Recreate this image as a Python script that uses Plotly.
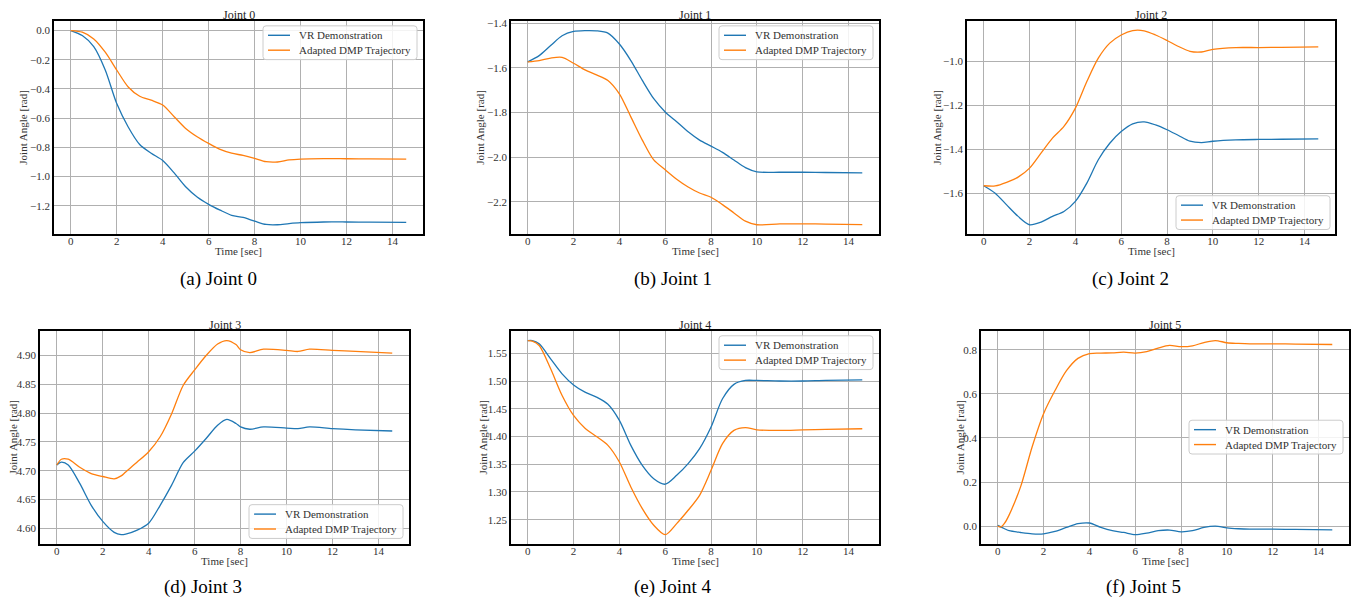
import plotly.graph_objects as go

W, H = 1352, 604

# ---------------- data ----------------
t0 = [0, 0.5, 1, 1.5, 2, 2.5, 3, 3.5, 4, 4.5, 5, 5.5, 6, 6.5, 7, 7.5, 8, 8.5, 9, 9.5, 10, 11, 12, 13, 14.6]
vr0 = [0, -0.034, -0.11, -0.27, -0.5, -0.66, -0.78, -0.84, -0.89, -0.975, -1.07, -1.14, -1.19, -1.23,
       -1.265, -1.28, -1.305, -1.328, -1.33, -1.322, -1.316, -1.311, -1.311, -1.312, -1.313]
dmp0 = [0, -0.011, -0.057, -0.148, -0.27, -0.386, -0.45, -0.477, -0.51, -0.59, -0.67, -0.727, -0.773,
        -0.814, -0.84, -0.855, -0.875, -0.898, -0.9, -0.886, -0.88, -0.877, -0.878, -0.879, -0.88]

t1 = [0, 0.5, 1, 1.5, 2, 2.5, 3, 3.5, 4, 4.5, 5, 5.5, 6, 6.5, 7, 7.5, 8, 8.5, 9, 9.5, 10, 11, 12, 13, 14.6]
vr1 = [-1.573, -1.545, -1.50, -1.456, -1.437, -1.433, -1.434, -1.444, -1.493, -1.567, -1.656, -1.738,
       -1.797, -1.841, -1.886, -1.923, -1.95, -1.978, -2.012, -2.046, -2.065, -2.067, -2.067, -2.068, -2.07]
dmp1 = [-1.573, -1.567, -1.556, -1.553, -1.579, -1.609, -1.631, -1.656, -1.716, -1.819, -1.923, -2.012,
        -2.056, -2.098, -2.133, -2.16, -2.179, -2.212, -2.249, -2.286, -2.302, -2.298, -2.298, -2.299, -2.301]

t2 = [0, 0.5, 1, 1.5, 2, 2.5, 3, 3.5, 4, 4.5, 5, 5.5, 6, 6.5, 7, 7.5, 8, 8.5, 9, 9.5, 10, 11, 12, 13, 14.6]
vr2 = [-1.565, -1.599, -1.652, -1.704, -1.742, -1.73, -1.704, -1.682, -1.636, -1.553, -1.447, -1.372,
       -1.319, -1.284, -1.275, -1.289, -1.311, -1.337, -1.363, -1.369, -1.363, -1.357, -1.355, -1.354, -1.352]
dmp2 = [-1.565, -1.566, -1.55, -1.526, -1.485, -1.417, -1.349, -1.296, -1.213, -1.092, -0.986, -0.918,
        -0.881, -0.861, -0.862, -0.881, -0.906, -0.933, -0.955, -0.958, -0.946, -0.938, -0.938, -0.937, -0.935]

t3 = [0, 0.2, 0.5, 1, 1.5, 2, 2.5, 2.8, 3, 3.5, 4, 4.5, 5, 5.5, 6, 6.5, 7, 7.4, 7.8, 8, 8.4, 9, 10,
      10.5, 11, 12, 13, 14.6]
vr3 = [4.710, 4.715, 4.710, 4.678, 4.640, 4.612, 4.593, 4.589, 4.590, 4.597, 4.609, 4.640, 4.675, 4.714,
       4.734, 4.756, 4.779, 4.789, 4.782, 4.776, 4.772, 4.776, 4.774, 4.773, 4.776, 4.773, 4.771, 4.769]
dmp3 = [4.710, 4.720, 4.720, 4.706, 4.695, 4.690, 4.686, 4.691, 4.698, 4.715, 4.733, 4.759, 4.799, 4.848,
        4.875, 4.900, 4.920, 4.926, 4.919, 4.910, 4.905, 4.911, 4.909, 4.907, 4.911, 4.909, 4.907, 4.904]

t4 = [0, 0.2, 0.5, 1, 1.5, 2, 2.5, 3, 3.5, 4, 4.5, 5, 5.5, 6, 6.5, 7, 7.5, 8, 8.5, 9, 9.5, 10, 11, 12,
      13, 14.6]
vr4 = [1.573, 1.573, 1.567, 1.540, 1.513, 1.493, 1.480, 1.471, 1.458, 1.429, 1.384, 1.348, 1.324, 1.314,
       1.330, 1.351, 1.378, 1.417, 1.468, 1.494, 1.501, 1.501, 1.500, 1.500, 1.501, 1.502]
dmp4 = [1.573, 1.572, 1.564, 1.522, 1.474, 1.438, 1.415, 1.400, 1.384, 1.354, 1.309, 1.270, 1.240, 1.223,
        1.243, 1.267, 1.294, 1.339, 1.387, 1.411, 1.416, 1.412, 1.411, 1.412, 1.413, 1.414]

t5 = [0, 0.15, 0.3, 0.5, 1, 1.5, 2, 2.5, 3, 3.5, 4, 4.5, 5, 5.5, 6, 6.5, 7, 7.5, 8, 8.5, 9, 9.5, 10,
      10.5, 11, 12, 13, 14.6]
vr5 = [0.003, -0.005, -0.012, -0.021, -0.029, -0.035, -0.035, -0.024, -0.006, 0.011, 0.014, -0.006,
       -0.021, -0.029, -0.039, -0.032, -0.021, -0.018, -0.026, -0.021, -0.006, 0.0, -0.008, -0.012,
       -0.014, -0.014, -0.015, -0.017]
dmp5 = [0.0, -0.004, 0.013, 0.051, 0.179, 0.359, 0.51, 0.615, 0.705, 0.761, 0.783, 0.785, 0.786, 0.789,
        0.785, 0.792, 0.808, 0.82, 0.814, 0.818, 0.833, 0.842, 0.832, 0.829, 0.827, 0.827, 0.826, 0.824]

times = [t0, t1, t2, t3, t4, t5]
vr_series = [vr0, vr1, vr2, vr3, vr4, vr5]
dmp_series = [dmp0, dmp1, dmp2, dmp3, dmp4, dmp5]
series_names = ["VR Demonstration", "Adapted DMP Trajectory"]
titles = ["Joint 0", "Joint 1", "Joint 2", "Joint 3", "Joint 4", "Joint 5"]
captions = ["(a) Joint 0", "(b) Joint 1", "(c) Joint 2", "(d) Joint 3", "(e) Joint 4", "(f) Joint 5"]
ytick_fmt = [".1f", ".1f", ".1f", ".2f", ".2f", ".1f"]
ytick_step = [0.2, 0.2, 0.2, 0.05, 0.05, 0.2]
x_ticks = [0, 2, 4, 6, 8, 10, 12, 14]

# ---------------- layout geometry (pixels) ----------------
boxes = [(54, 17, 423, 232), (511, 17, 879, 232), (967, 17, 1335, 232),
         (40, 329, 409, 544), (511, 329, 879, 544), (981, 329, 1349, 544)]
ylabel_x = [23, 480, 937, 13, 483, 960]
caption_x = [218, 673, 1130, 203, 673, 1143]
legend_box = [  # right edge, top edge (px) of each legend frame
    (417, 22), (873, 22), (1330, 193), (403, 504), (873, 334), (1343, 419)]
LEG_W, LEG_H = 154, 34

BLUE = "#1f77b4"
ORANGE = "#ff7f0e"
colors = [BLUE, ORANGE]
FONT = "Liberation Serif"
TXT = "#333333"

fig = go.Figure()
layout = dict(width=W, height=H, margin=dict(l=0, r=0, t=0, b=0),
              paper_bgcolor="white", plot_bgcolor="white", showlegend=False,
              font=dict(family=FONT, size=11, color=TXT))
annotations = []
shapes = []


def px_x(x):
    return x / W


def px_y(y):
    return 1 - y / H


def rounded_rect(l, t, r, b, rad=3):
    L, R = px_x(l), px_x(r)
    T, B = px_y(t), px_y(b)
    dx, dy = rad / W, rad / H
    return (f"M{L + dx},{T} L{R - dx},{T} Q{R},{T} {R},{T - dy} L{R},{B + dy} Q{R},{B} {R - dx},{B} "
            f"L{L + dx},{B} Q{L},{B} {L},{B + dy} L{L},{T - dy} Q{L},{T} {L + dx},{T} Z")


for i in range(6):
    n = "" if i == 0 else str(i + 1)
    x0, y0, x1, y1 = boxes[i]
    t = times[i]
    vr = vr_series[i]
    dmp = dmp_series[i]

    for name, ys, col in zip(series_names, [vr, dmp], colors):
        fig.add_trace(go.Scatter(x=t, y=ys, mode="lines", name=name,
                                 line=dict(color=col, width=1.3, shape="spline", smoothing=0.8),
                                 xaxis="x" + n, yaxis="y" + n))

    tmin, tmax = min(t), max(t)
    tp = 0.05 * (tmax - tmin)
    lo = min(min(vr), min(dmp))
    hi = max(max(vr), max(dmp))
    yp = 0.05 * (hi - lo)

    axis_common = dict(showgrid=True, gridcolor="#b0b0b0", gridwidth=1, zeroline=False,
                       showline=True, linecolor="black", linewidth=1.5, mirror=True,
                       ticks="", tickfont=dict(family=FONT, size=11, color=TXT))
    layout["xaxis" + n] = dict(domain=[px_x(x0), px_x(x1)], anchor="y" + n,
                               range=[tmin - tp, tmax + tp], tickmode="array",
                               tickvals=x_ticks, ticktext=[str(v) for v in x_ticks],
                               ticklabelstandoff=-4, **axis_common)
    layout["yaxis" + n] = dict(domain=[px_y(y1), px_y(y0)], anchor="x" + n,
                               range=[lo - yp, hi + yp], dtick=ytick_step[i], tick0=0,
                               tickformat=ytick_fmt[i], **axis_common)

    # legend frame, line samples and labels (matplotlib-style legend)
    lr, lt = legend_box[i]
    ll, lb = lr - LEG_W, lt + LEG_H
    shapes.append(dict(type="path", path=rounded_rect(ll, lt, lr, lb), xref="paper", yref="paper",
                       fillcolor="rgba(255,255,255,0.85)", line=dict(color="#cccccc", width=1),
                       layer="above"))
    for k, (name, col) in enumerate(zip(series_names, colors)):
        yy = lt + 9.5 + 15 * k
        shapes.append(dict(type="line", x0=px_x(ll + 5), x1=px_x(ll + 27), y0=px_y(yy), y1=px_y(yy),
                           xref="paper", yref="paper", line=dict(color=col, width=1.4),
                           layer="above"))
        annotations.append(dict(text=name, x=px_x(ll + 34), y=px_y(yy), xref="paper", yref="paper",
                                xanchor="left", yanchor="middle", showarrow=False,
                                font=dict(family=FONT, size=11, color=TXT)))

    cx = (x0 + x1) / 2
    annotations.append(dict(text=titles[i], x=px_x(cx), y=px_y(y0), xref="paper", yref="paper",
                            xanchor="center", yanchor="bottom", showarrow=False, yshift=-3,
                            font=dict(family=FONT, size=12, color="#222222")))
    annotations.append(dict(text="Time [sec]", x=px_x(cx), y=px_y(y1 + 17), xref="paper", yref="paper",
                            xanchor="center", yanchor="middle", showarrow=False,
                            font=dict(family=FONT, size=11, color=TXT)))
    annotations.append(dict(text="Joint Angle [rad]", x=px_x(ylabel_x[i]), y=px_y((y0 + y1) / 2),
                            xref="paper", yref="paper", xanchor="center", yanchor="middle",
                            textangle=-90, showarrow=False,
                            font=dict(family=FONT, size=11, color=TXT)))
    cap_y = 277 if i < 3 else 587
    annotations.append(dict(text=captions[i], x=px_x(caption_x[i]), y=px_y(cap_y), xref="paper",
                            yref="paper", xanchor="center", yanchor="middle", showarrow=False,
                            font=dict(family=FONT, size=19, color="black")))

layout["annotations"] = annotations
layout["shapes"] = shapes
fig.update_layout(**layout)
fig.write_html("out.html", config={"displayModeBar": False},
               post_script="document.body.style.margin='0';document.body.style.overflow='hidden';")
